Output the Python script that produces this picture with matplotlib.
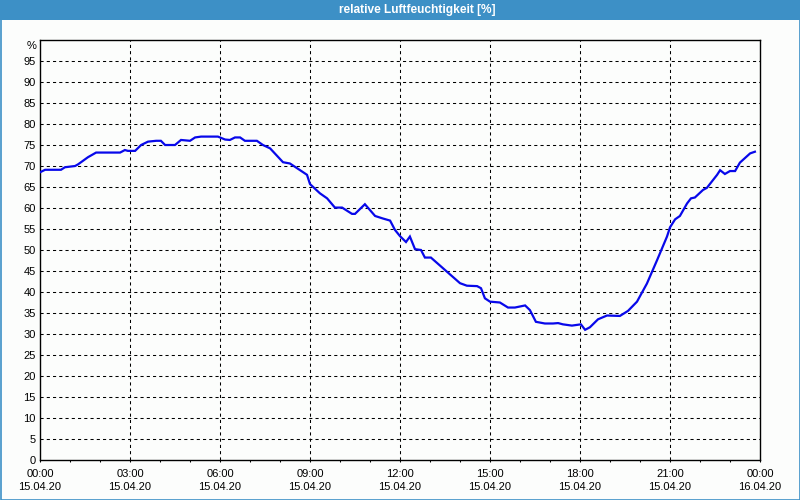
import matplotlib
matplotlib.use("Agg")
import matplotlib.pyplot as plt
from matplotlib.patches import Rectangle
import numpy as np

title = "relative Luftfeuchtigkeit [%]"
hours = [0.00, 0.17, 0.70, 0.83, 1.17, 1.27, 1.60, 1.87, 2.67, 2.83, 2.93, 3.17,
         3.37, 3.60, 3.87, 4.03, 4.17, 4.50, 4.70, 5.00, 5.17, 5.37, 5.93, 6.17,
         6.33, 6.50, 6.67, 6.83, 7.23, 7.43, 7.67, 8.10, 8.33, 8.67, 8.90, 9.00,
         9.33, 9.57, 9.83, 10.07, 10.40, 10.50, 10.83, 11.17, 11.43, 11.67, 11.83,
         12.00, 12.20, 12.33, 12.50, 12.70, 12.83, 13.03, 13.57, 14.00, 14.23,
         14.57, 14.70, 14.83, 15.00, 15.33, 15.60, 15.83, 16.17, 16.33, 16.53,
         16.83, 17.10, 17.27, 17.43, 17.73, 18.03, 18.17, 18.33, 18.60, 18.90,
         19.33, 19.60, 19.90, 20.23, 20.57, 20.90, 21.00, 21.17, 21.33, 21.57,
         21.70, 21.83, 22.10, 22.23, 22.57, 22.67, 22.83, 23.00, 23.17, 23.33,
         23.67, 23.83]
humidity = [68.5, 69.1, 69.1, 69.7, 70.0, 70.4, 72.1, 73.2, 73.2, 73.8, 73.6, 73.6,
            75.0, 75.8, 76.0, 76.0, 75.0, 75.0, 76.2, 76.0, 76.8, 77.0, 77.0, 76.3,
            76.2, 76.8, 76.8, 76.0, 76.0, 75.0, 74.2, 70.9, 70.6, 69.0, 67.9, 65.7,
            63.5, 62.3, 60.1, 60.1, 58.6, 58.6, 60.9, 58.1, 57.5, 57.0, 54.8,
            53.3, 51.9, 53.2, 50.2, 50.0, 48.2, 48.2, 44.8, 42.1, 41.5,
            41.4, 40.9, 38.5, 37.7, 37.5, 36.3, 36.3, 36.8, 35.7, 32.9,
            32.5, 32.5, 32.6, 32.3, 32.0, 32.3, 31.0, 31.6, 33.5, 34.4,
            34.3, 35.5, 37.7, 42.0, 47.6, 53.2, 55.4, 57.3, 58.1, 61.1,
            62.3, 62.5, 64.3, 64.8, 67.9, 69.0, 68.1, 68.8, 68.8, 70.8,
            73.0, 73.4]
x_ticks = [0, 3, 6, 9, 12, 15, 18, 21, 24]
x_labels = ["00:00\n15.04.20", "03:00\n15.04.20", "06:00\n15.04.20", "09:00\n15.04.20",
            "12:00\n15.04.20", "15:00\n15.04.20", "18:00\n15.04.20", "21:00\n15.04.20",
            "00:00\n16.04.20"]
y_ticks = list(range(0, 100, 5))

FONT = "Liberation Sans"
BAR = "#3d90c6"
BG = "#fcfdfc"

fig = plt.figure(figsize=(8, 5), dpi=100, facecolor=BG)
ax = fig.add_axes([40/800, 40/500, 720/800, 420/500])
ax.set_facecolor(BG)

# title bar
fig.patches.append(Rectangle((0, 480/500), 1, 20/500, transform=fig.transFigure,
                             facecolor=BAR, edgecolor="none", zorder=0))
fig.patches.append(Rectangle((0.5/800, 0.5/500), 799/800, 499/500, transform=fig.transFigure,
                             facecolor="none", edgecolor=BAR, lw=1.2, zorder=5))
fig.text(417/800, 490/500, title, color="white", ha="center", va="center",
         fontsize=8.6, fontweight="bold", family=FONT)

ax.plot(hours, humidity, color="#0808ea", lw=1.6, zorder=3,
        solid_joinstyle="miter")

ax.set_xlim(0, 24)
ax.set_ylim(0, 100)
ax.set_xticks(x_ticks)
ax.set_xticklabels(x_labels, fontsize=8, family=FONT, linespacing=1.35)
ax.set_xticks(range(0, 25), minor=True)
ax.set_yticks(y_ticks)
ax.set_yticklabels([str(v) for v in y_ticks], fontsize=8, family=FONT)
ax.annotate("%", xy=(0, 98.6), xycoords=("axes fraction", "data"),
            xytext=(-2.2, 0), textcoords="offset points", ha="right", va="center",
            fontsize=8, family=FONT)

ax.tick_params(axis="x", which="both", direction="out", length=1.6, width=0.75,
               pad=5, colors="black")
ax.tick_params(axis="y", which="both", length=0, pad=3)

for v in y_ticks[1:]:
    ax.axhline(v, color="black", lw=0.75, ls=(0, (3, 3)), zorder=1)
for v in x_ticks[1:-1]:
    ax.axvline(v, color="black", lw=0.75, ls=(0, (3, 3)), zorder=1)

for s in ax.spines.values():
    s.set_color("black")
    s.set_linewidth(1.0)

fig.savefig("out.png", dpi=100, facecolor=BG)
